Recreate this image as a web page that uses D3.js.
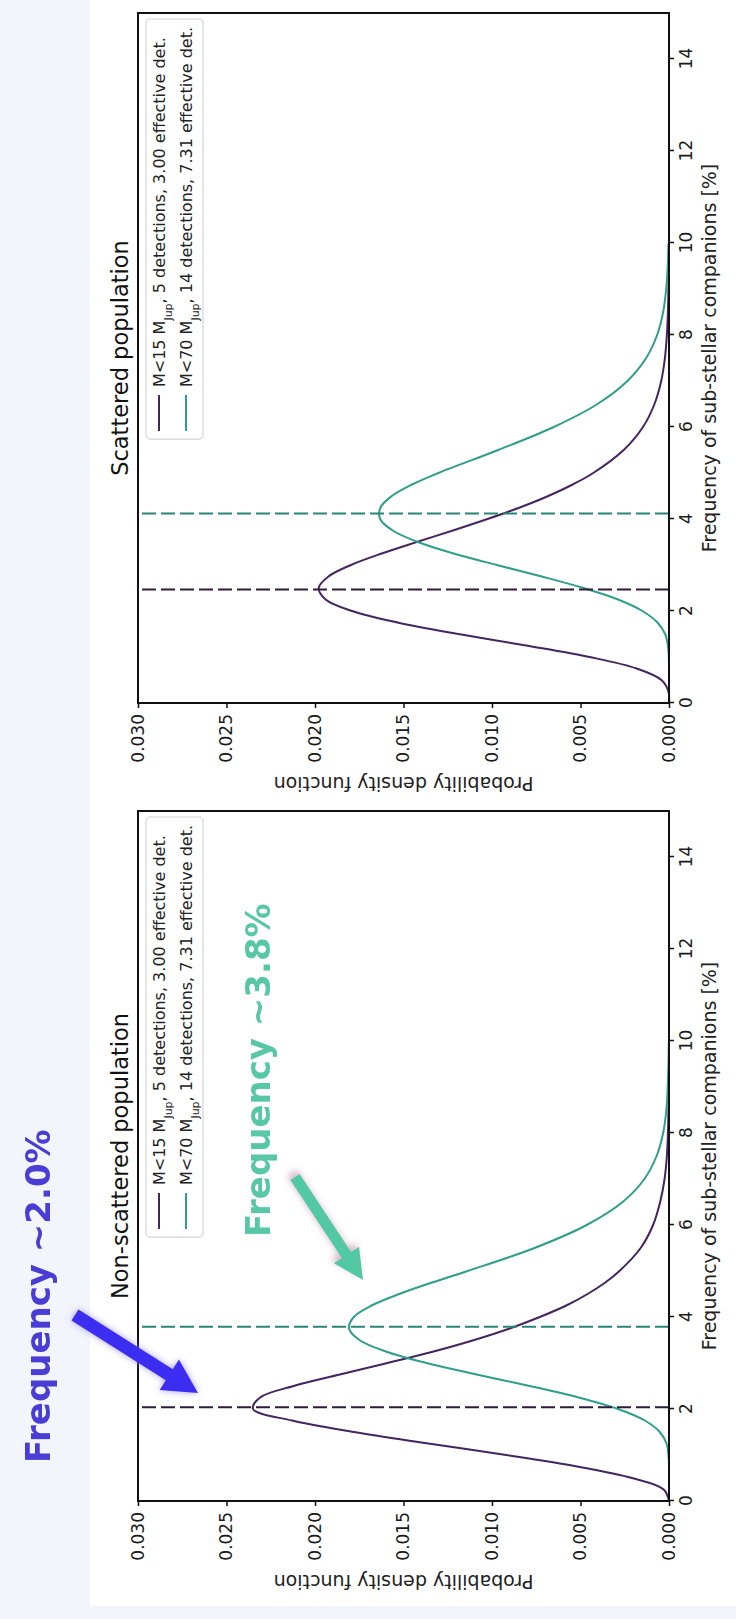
<!DOCTYPE html>
<html>
<head>
<meta charset="utf-8">
<script src="https://cdn.jsdelivr.net/npm/d3@7"></script>
<style>
  html, body { margin: 0; padding: 0; background: #ffffff; }
  svg { display: block; }
</style>
</head>
<body>
<div id="chart"></div>
<script>
// Frequency (%) at which every density curve is sampled
const freqGrid = [0, 0.25, 0.5, 0.75, 1, 1.25, 1.5, 1.75, 2, 2.25, 2.5, 2.75, 3, 3.25, 3.5, 3.75,
                  4, 4.25, 4.5, 4.75, 5, 5.5, 6, 6.5, 7, 7.5, 8, 8.5, 9, 9.5, 10];

// Non-scattered population
const nonScatteredM15 = [0, 0.0003, 0.0021, 0.0052, 0.0092, 0.0136, 0.0178, 0.0213, 0.0235, 0.0231,
                         0.0212, 0.0186, 0.0159, 0.0133, 0.0110, 0.0090, 0.0073, 0.0058, 0.0046,
                         0.0036, 0.0028, 0.0016, 0.0009, 0.0005, 0.00025, 0.00012, 0.00006, 0.00003,
                         0.00001, 0, 0];
const nonScatteredM70 = [0, 0, 0, 0, 0.00003, 0.00014, 0.00052, 0.00137, 0.00288, 0.0051, 0.00787, 0.01087,
                         0.0137, 0.016, 0.01749, 0.01808, 0.01781, 0.0168, 0.01524, 0.01338, 0.01138, 0.0076,
                         0.00465, 0.00262, 0.00139, 0.0007, 0.00033, 0.00015, 0.00007, 0.00003, 0.00001];

// Scattered population
const scatteredM15 = [0, 0.00003, 0.00043, 0.00183, 0.00449, 0.00807, 0.0119, 0.01534, 0.01791, 0.0194,
                      0.01979, 0.01924, 0.01797, 0.01623, 0.01425, 0.01221, 0.01026, 0.00843, 0.00682,
                      0.00544, 0.00428, 0.00256, 0.00147, 0.00082, 0.00044, 0.00023, 0.00012, 0.00006,
                      0.00003, 0.00001, 0];
const scatteredM70 = [0, 0, 0, 0, 0.00001, 0.00006, 0.00022, 0.00065, 0.0015, 0.00288, 0.00483, 0.00719,
                      0.00973, 0.01216, 0.01419, 0.01561, 0.01632, 0.0163, 0.01566, 0.01452, 0.01303,
                      0.00965, 0.00651, 0.00404, 0.00235, 0.00129, 0.00067, 0.00033, 0.00016, 0.00007, 0.00003];

// Most probable frequency of each sample (dashed markers): [M<15, M<70]
const nonScatteredPeaks = [2.04, 3.79];
const scatteredPeaks = [2.47, 4.12];

const panelTitles = ["Non-scattered population", "Scattered population"];
const xTicks = [0, 2, 4, 6, 8, 10, 12, 14];
const yTicks = [0, 0.005, 0.010, 0.015, 0.020, 0.025, 0.030];

// Legend pieces
const legendMass = ["M<15", "M<70"];
const legendDetections = [5, 14];
const legendEffective = ["3.00", "7.31"];

const callouts = ["Frequency ~2.0%", "Frequency ~3.8%"];

// ---------------------------------------------------------------------------
const W = 736, H = 1619;
const purple = "#45245f", teal = "#2f9e8c";
const font = "'DejaVu Sans', Verdana, sans-serif";

const svg = d3.select("#chart").append("svg")
  .attr("width", W).attr("height", H)
  .attr("viewBox", `0 0 ${W} ${H}`);

const defs = svg.append("defs");
const glow = defs.append("filter").attr("id", "glow")
  .attr("x", "-40%").attr("y", "-40%").attr("width", "180%").attr("height", "180%");
glow.append("feGaussianBlur").attr("stdDeviation", 3.5);
const blurText = defs.append("filter").attr("id", "soft");
blurText.append("feGaussianBlur").attr("stdDeviation", 0.4);

// page backdrop
svg.append("rect").attr("width", W).attr("height", H).attr("fill", "#f2f5fb");
svg.append("rect").attr("x", 90).attr("y", 0).attr("width", W - 90).attr("height", 1606).attr("fill", "#ffffff");

// the figure is laid out landscape and turned a quarter turn counter-clockwise
const fig = svg.append("g").attr("transform", `translate(0,${H}) rotate(-90)`);

const plotTop = 138, plotBottom = 669, plotWidth = 690;
const plotLefts = [118, 916];
const panels = [
  { m15: nonScatteredM15, m70: nonScatteredM70, peaks: nonScatteredPeaks },
  { m15: scatteredM15, m70: scatteredM70, peaks: scatteredPeaks }
];

panels.forEach((p, i) => {
  const left = plotLefts[i], right = left + plotWidth;
  const x = d3.scaleLinear().domain([0, 15]).range([left, right]);
  const y = d3.scaleLinear().domain([0, 0.030]).range([plotBottom, plotTop]);
  const pg = fig.append("g");

  const line = d3.line()
    .x((d, j) => x(freqGrid[j]))
    .y(d => y(d))
    .curve(d3.curveCatmullRom.alpha(0.5));

  pg.append("path").datum(p.m15).attr("d", line)
    .attr("fill", "none").attr("stroke", purple).attr("stroke-width", 2);
  pg.append("path").datum(p.m70).attr("d", line)
    .attr("fill", "none").attr("stroke", teal).attr("stroke-width", 2);

  // dashed markers at the most probable frequency
  [purple, teal].forEach((c, k) => {
    pg.append("line")
      .attr("x1", x(p.peaks[k])).attr("x2", x(p.peaks[k]))
      .attr("y1", y(0)).attr("y2", y(0.030))
      .attr("stroke", k === 0 ? "#2e1b3d" : "#2a8579")
      .attr("stroke-width", 2)
      .attr("stroke-dasharray", "14,5");
  });

  // axes
  const xAxis = d3.axisBottom(x).tickValues(xTicks).tickSize(5).tickPadding(6).tickFormat(d3.format("d"));
  const gx = pg.append("g").attr("transform", `translate(0,${plotBottom})`).call(xAxis);
  const yAxis = d3.axisLeft(y).tickValues(yTicks).tickSize(5).tickPadding(6).tickFormat(d3.format(".3f"));
  const gy = pg.append("g").attr("transform", `translate(${left},0)`).call(yAxis);
  [gx, gy].forEach(a => {
    a.select(".domain").remove();
    a.selectAll(".tick line").attr("stroke", "#111").attr("stroke-width", 1.5);
    a.selectAll(".tick text").attr("fill", "#1a1a1a").style("font-family", font).style("font-size", "17px");
  });

  // frame
  pg.append("rect")
    .attr("x", left).attr("y", plotTop).attr("width", plotWidth).attr("height", plotBottom - plotTop)
    .attr("fill", "none").attr("stroke", "#111").attr("stroke-width", 2);

  // axis titles
  pg.append("text")
    .attr("x", (left + right) / 2).attr("y", 716)
    .attr("text-anchor", "middle").attr("fill", "#222")
    .style("font-family", font).style("font-size", "19px")
    .text("Frequency of sub-stellar companions [%]");
  pg.append("text")
    .attr("transform", `translate(${left - 74},${(plotTop + plotBottom) / 2}) rotate(-90)`)
    .attr("text-anchor", "middle").attr("fill", "#222")
    .style("font-family", font).style("font-size", "19px")
    .text("Probability density function");

  // panel title
  pg.append("text")
    .attr("x", (left + right) / 2).attr("y", 128)
    .attr("text-anchor", "middle").attr("fill", "#111")
    .style("font-family", font).style("font-size", "22.5px")
    .text(panelTitles[i]);

  // legend
  const lg = pg.append("g");
  const box = lg.append("rect").attr("fill", "#ffffff").attr("fill-opacity", 0.85)
    .attr("stroke", "#d4d4d4").attr("stroke-width", 1.2).attr("rx", 4);
  const rows = [0, 1].map(k => {
    const t = lg.append("text").attr("fill", "#222")
      .style("font-family", font).style("font-size", "16px");
    t.append("tspan").text(legendMass[k] + " M");
    t.append("tspan").attr("baseline-shift", "sub").style("font-size", "11px").text("Jup");
    t.append("tspan").text(`, ${legendDetections[k]} detections, ${legendEffective[k]} effective det.`);
    return t;
  });
  const textW = d3.max(rows, r => r.node().getComputedTextLength());
  const boxW = textW + 60, boxH = 57;
  const bx = right - 6 - boxW, by = 146;
  box.attr("x", bx).attr("y", by).attr("width", boxW).attr("height", boxH);
  rows.forEach((t, k) => {
    const cy = by + 13 + k * 27;
    lg.append("line").attr("x1", bx + 8).attr("x2", bx + 44).attr("y1", cy).attr("y2", cy)
      .attr("stroke", k === 0 ? purple : teal).attr("stroke-width", 2);
    t.attr("x", bx + 52).attr("y", cy + 5.5);
  });
});

// call-out arrows and labels
function arrowPath(tail, tip, shaft, headW, headL) {
  const dx = tip[0] - tail[0], dy = tip[1] - tail[1];
  const len = Math.hypot(dx, dy);
  const ux = dx / len, uy = dy / len, nx = -uy, ny = ux;
  const bx = tip[0] - ux * headL, by = tip[1] - uy * headL;
  const pts = [
    [tail[0] + nx * shaft / 2, tail[1] + ny * shaft / 2],
    [bx + nx * shaft / 2, by + ny * shaft / 2],
    [bx + nx * headW / 2, by + ny * headW / 2],
    tip,
    [bx - nx * headW / 2, by - ny * headW / 2],
    [bx - nx * shaft / 2, by - ny * shaft / 2],
    [tail[0] - nx * shaft / 2, tail[1] - ny * shaft / 2]
  ];
  return "M" + pts.map(p => p.join(",")).join("L") + "Z";
}

const arrows = [
  { tail: [304, 75], tip: [226, 198], shaft: 13, headW: 36, headL: 34, fill: "#3b2ef0", halo: "#8f86f5", dx: 0, dy: 0 },
  { tail: [442, 295], tip: [339, 363], shaft: 11, headW: 30, headL: 30, fill: "#52c9a2", halo: "#c9a3b3", dx: 4, dy: -3 }
];
arrows.forEach(a => {
  const d = arrowPath(a.tail, a.tip, a.shaft, a.headW, a.headL);
  fig.append("path").attr("d", d).attr("fill", a.halo).attr("opacity", 0.8)
    .attr("transform", `translate(${a.dx},${a.dy})`).attr("filter", "url(#glow)");
  fig.append("path").attr("d", d).attr("fill", a.fill);
});

fig.append("text").attr("x", 156).attr("y", 50)
  .attr("fill", "#4a3cd6").style("font-family", font).style("font-weight", "bold").style("font-size", "34px")
  .attr("filter", "url(#soft)")
  .text(callouts[0]);
fig.append("text").attr("x", 382).attr("y", 270)
  .attr("fill", "#58c7a5").style("font-family", font).style("font-weight", "bold").style("font-size", "34px")
  .attr("filter", "url(#soft)")
  .text(callouts[1]);
</script>
</body>
</html>
